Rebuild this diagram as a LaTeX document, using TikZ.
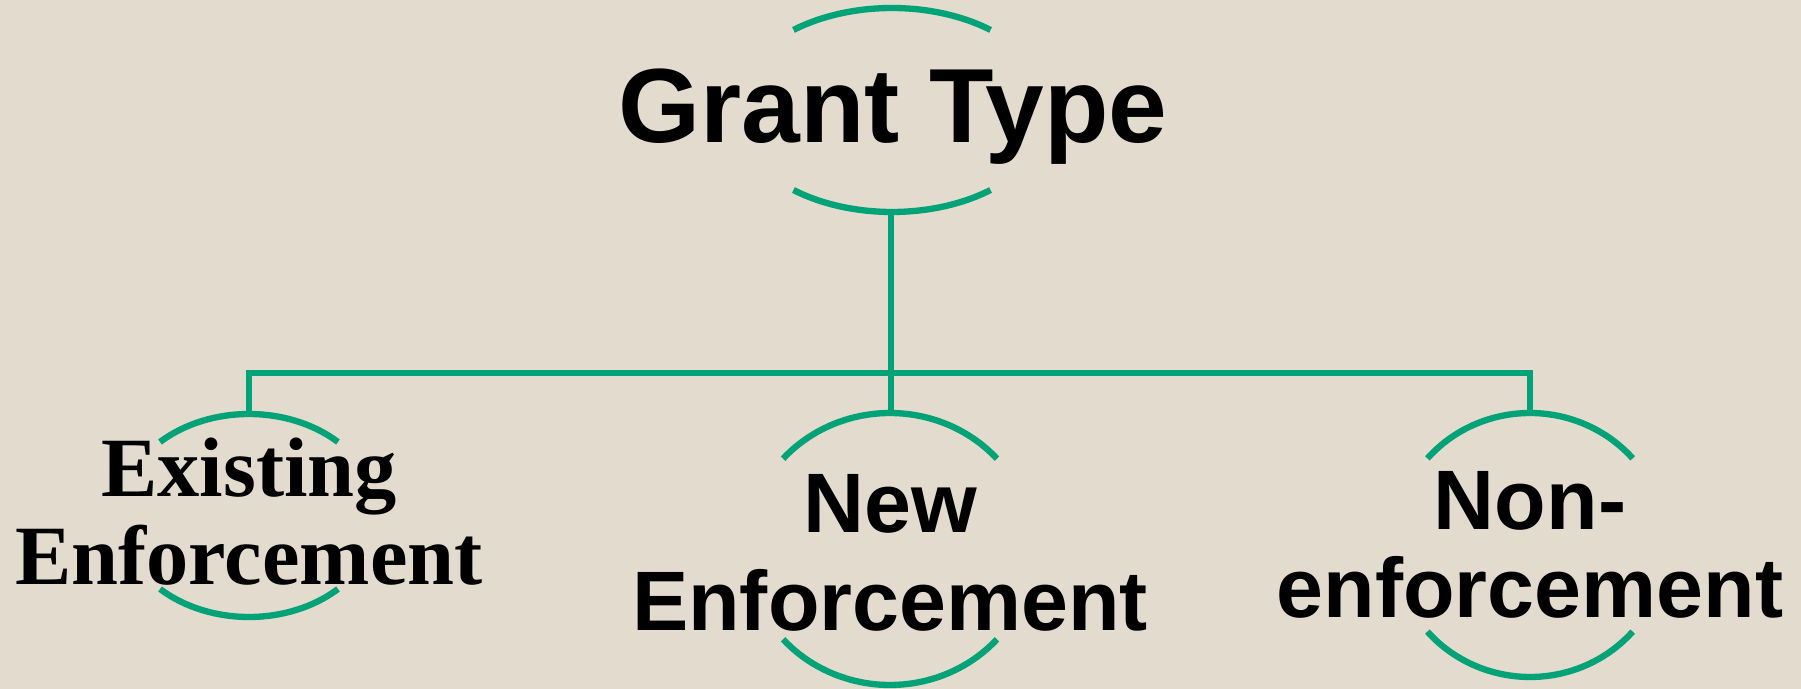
\documentclass[tikz,border=0pt]{standalone}
\usepackage{fontspec}
\setmainfont{Liberation Serif}
\newfontfamily\helv{Liberation Sans}
\definecolor{bgbeige}{RGB}{226,219,206}
\definecolor{tealgrn}{RGB}{0,163,120}
\newcommand\ovalarcs[5]{%
  \draw[conn] (#1,#2) ++(-#5:#3 and #4) arc[start angle=-#5, end angle=-180+#5, x radius=#3, y radius=#4];
  \draw[conn] (#1,#2) ++(#5:#3 and #4) arc[start angle=#5, end angle=180-#5, x radius=#3, y radius=#4];}
\begin{document}
\begin{tikzpicture}[x=0.01cm,y=-0.01cm,
  conn/.style={draw=tealgrn,line width=1.8pt},
  ttl/.style={inner sep=0pt,anchor=base,font=\helv\bfseries\fontsize{30}{30}\selectfont},
  sanslbl/.style={inner sep=0pt,anchor=base,font=\helv\bfseries\fontsize{24}{24}\selectfont},
  seriflbl/.style={inner sep=0pt,anchor=base,font=\bfseries\fontsize{24}{24}\selectfont}]
\fill[bgbeige] (0,0) rectangle (1801,689);
\useasboundingbox (0,0) rectangle (1801,689);

% title
\node[ttl] (gt) at (893,143) {Grant Type};
\ovalarcs{892}{110}{159}{102}{51.7}

% existing enforcement
\node[seriflbl] (ex1) at (249,497) {Existing};
\node[seriflbl] (ex2) at (249,585) {Enforcement};
\ovalarcs{249}{515.5}{129}{101.5}{46.4}

% new enforcement
\node[sanslbl] (ne1) at (890,533) {New};
\node[sanslbl] (ne2) at (890,630) {Enforcement};
\ovalarcs{890}{549}{143}{136}{41.6}

% non-enforcement
\node[sanslbl] (nn1) at (1530,530) {Non-};
\node[sanslbl] (nn2) at (1530,617) {enforcement};
\ovalarcs{1530}{545}{136}{132}{41}

% connector points
\coordinate (gtB) at (891,212);
\coordinate (exT) at (249,414);
\coordinate (neT) at (891,413);
\coordinate (nnT) at (1530,413);
\coordinate (busL) at (249,373);
\coordinate (busR) at (1530,373);

\draw[conn] (gtB) -- (neT);
\draw[conn] (exT) -- (busL) -- (busR) -- (nnT);
\end{tikzpicture}
\end{document}
